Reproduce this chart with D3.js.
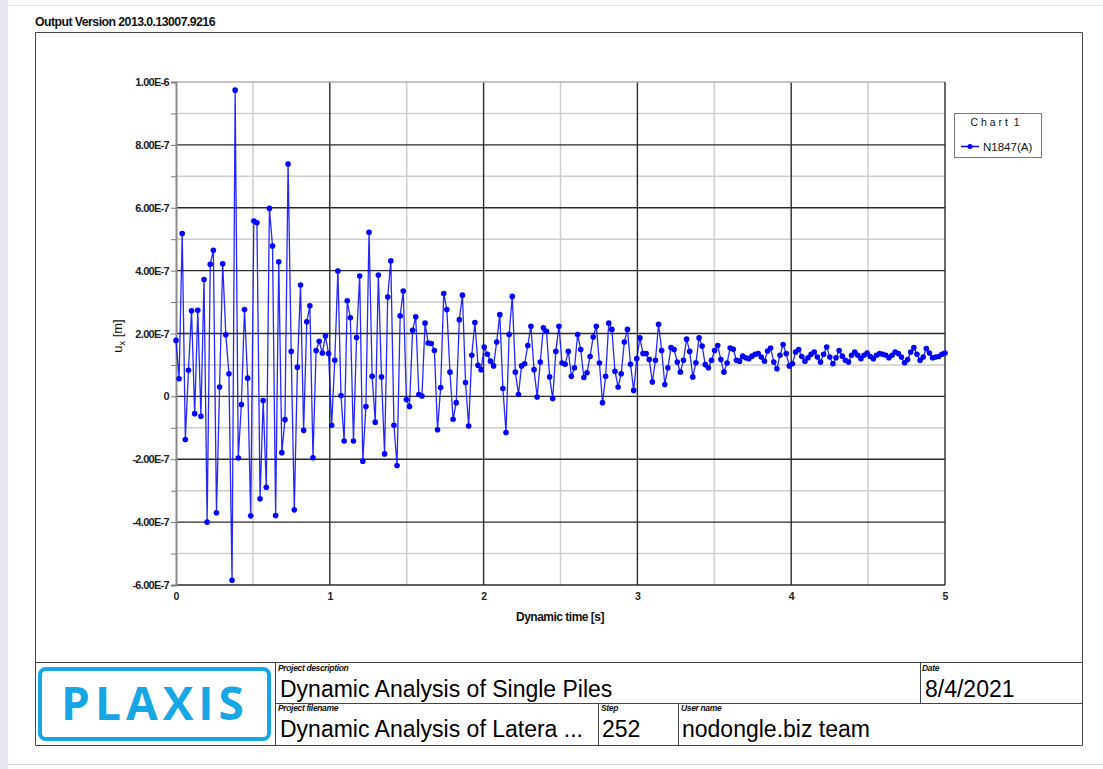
<!DOCTYPE html>
<html><head><meta charset="utf-8">
<script src="https://cdn.jsdelivr.net/npm/d3@7"></script>
<style>
body{margin:0;background:#fff;}
svg{display:block;font-family:"Liberation Sans",Arial,sans-serif;}
</style>
</head><body>
<svg id="c" width="1103" height="769"></svg>
<script>
// ---------------- DATA ----------------
const versionText = "Output Version 2013.0.13007.9216";
const legendTitle = "C h a r t  1";
const seriesName = "N1847(A)";
const xTitle = "Dynamic time [s]";
// time span of the series (s); points are equally spaced steps over it
const timeStart = 0.0, timeEnd = 5.0;
// u_x values in units of 1E-7 m, one per step
const uxE7 = [
 1.78, 0.56, 5.18, -1.37, 0.83, 2.72, -0.55, 2.74, -0.63, 3.72,
 -4.0, 4.2, 4.65, -3.7, 0.3, 4.22, 1.96, 0.72, -5.85, 9.74,
 -1.96, -0.26, 2.76, 0.58, -3.8, 5.58, 5.52, -3.26, -0.13, -2.89,
 5.98, 4.78, -3.79, 4.28, -1.79, -0.74, 7.39, 1.43, -3.61, 0.93,
 3.54, -1.08, 2.37, 2.88, -1.95, 1.46, 1.75, 1.38, 1.92, 1.36,
 -0.92, 1.15, 3.99, 0.03, -1.42, 3.04, 2.5, -1.42, 1.87, 3.83,
 -2.06, -0.32, 5.22, 0.64, -0.82, 3.86, 0.62, -1.83, 3.16, 4.31,
 -0.92, -2.2, 2.56, 3.35, -0.1, -0.32, 2.1, 2.53, 0.06, 0.01,
 2.33, 1.7, 1.68, 1.46, -1.06, 0.28, 3.27, 2.76, 0.77, -0.73,
 -0.2, 2.44, 3.22, 0.44, -0.94, 1.31, 2.35, 0.99, 0.85, 1.57,
 1.34, 1.12, 0.97, 1.73, 2.6, 0.25, -1.15, 1.97, 3.18, 0.77,
 0.06, 0.97, 1.04, 1.62, 2.23, 0.85, -0.02, 1.09, 2.18, 2.07,
 0.62, -0.07, 1.43, 2.23, 1.06, 1.02, 1.43, 0.64, 0.91, 1.97,
 1.49, 0.6, 0.75, 1.27, 1.89, 2.23, 1.06, -0.2, 0.64, 2.33,
 2.13, 0.8, 0.3, 0.72, 1.73, 2.13, 1.02, 0.19, 1.2, 1.86,
 1.36, 1.36, 1.17, 0.46, 1.15, 2.29, 1.46, 0.38, 0.91, 1.55,
 1.49, 1.09, 0.77, 1.15, 1.82, 1.43, 0.62, 1.07, 1.86, 1.6,
 1.01, 0.91, 1.15, 1.46, 1.62, 1.17, 0.77, 1.06, 1.54, 1.5,
 1.15, 1.12, 1.28, 1.23, 1.2, 1.28, 1.34, 1.36, 1.25, 1.12,
 1.44, 1.54, 1.09, 0.88, 1.31, 1.65, 1.36, 0.97, 1.04, 1.41,
 1.49, 1.27, 1.12, 1.23, 1.34, 1.41, 1.25, 1.09, 1.34, 1.57,
 1.25, 1.04, 1.23, 1.46, 1.28, 1.15, 1.09, 1.31, 1.41, 1.31,
 1.2, 1.31, 1.38, 1.27, 1.2, 1.31, 1.36, 1.34, 1.31, 1.23,
 1.31, 1.41, 1.36, 1.25, 1.07, 1.17, 1.41, 1.55, 1.34, 1.15,
 1.25, 1.52, 1.38, 1.23, 1.25, 1.27, 1.34, 1.38
];
const yTickValues = [-6, -4, -2, 0, 2, 4, 6, 8, 10];
const yTickLabels = ["-6.00E-7", "-4.00E-7", "-2.00E-7", "0", "2.00E-7", "4.00E-7", "6.00E-7", "8.00E-7", "1.00E-6"];
const xTickValues = [0, 1, 2, 3, 4, 5];
const xTickLabels = ["0", "1", "2", "3", "4", "5"];
const blockProjectDescription = "Dynamic Analysis of Single Piles";
const blockProjectFilename = "Dynamic Analysis of Latera ...";
const blockDate = "8/4/2021";
const blockStep = "252";
const blockUser = "nodongle.biz team";
const logoText = "PLAXIS";

// ---------------- DRAW ----------------
const svg = d3.select("#c");
const BLUE = "#0000ff";

// page edges
svg.append("rect").attr("x",0).attr("y",0).attr("width",8).attr("height",769).attr("fill","#e6e7ef");
svg.append("line").attr("x1",8).attr("x2",1103).attr("y1",5.5).attr("y2",5.5).attr("stroke","#e3e3e8").attr("stroke-width",1);
svg.append("line").attr("x1",8).attr("x2",1103).attr("y1",764.5).attr("y2",764.5).attr("stroke","#d8d8dc").attr("stroke-width",1);

svg.append("text").attr("x",35).attr("y",26).attr("font-size",12.3).attr("font-weight","bold")
  .attr("letter-spacing","-0.55").attr("fill","#111").text(versionText);

// outer frame
const frame = svg.append("g").attr("fill","none").attr("stroke","#444").attr("stroke-width",1);
frame.append("path").attr("d","M35.5,745.5 V32.5 H1082.5 V745.5 H35.5");
frame.append("line").attr("x1",35).attr("x2",1082).attr("y1",662.5).attr("y2",662.5);
frame.append("line").attr("x1",275.5).attr("x2",275.5).attr("y1",662).attr("y2",745);
frame.append("line").attr("x1",275).attr("x2",1082).attr("y1",703.5).attr("y2",703.5);
frame.append("line").attr("x1",920.5).attr("x2",920.5).attr("y1",662).attr("y2",703);
frame.append("line").attr("x1",598.5).attr("x2",598.5).attr("y1",703).attr("y2",745);
frame.append("line").attr("x1",678.5).attr("x2",678.5).attr("y1",703).attr("y2",745);

// scales
const x = d3.scaleLinear().domain([0,5]).range([176,945]);
const y = d3.scaleLinear().domain([-6,10]).range([585,82]);

// grid
const grid = svg.append("g");
const minorX = d3.range(0.5,5,1), majorX = [1,2,3,4];
const minorY = d3.range(-5,10,2), majorY = [-4,-2,0,2,4,6,8];
grid.selectAll(".mx").data(minorX).join("line")
  .attr("x1",d=>x(d)).attr("x2",d=>x(d)).attr("y1",y(10)).attr("y2",y(-6))
  .attr("stroke","#cdcdcd").attr("stroke-width",1.5);
grid.selectAll(".my").data(minorY).join("line")
  .attr("x1",x(0)).attr("x2",x(5)).attr("y1",d=>y(d)).attr("y2",d=>y(d))
  .attr("stroke","#cdcdcd").attr("stroke-width",1.5);
grid.selectAll(".Mx").data(majorX).join("line")
  .attr("x1",d=>x(d)).attr("x2",d=>x(d)).attr("y1",y(10)).attr("y2",y(-6))
  .attr("stroke","#2a2a2a").attr("stroke-width",1.4);
grid.selectAll(".My").data(majorY).join("line")
  .attr("x1",x(0)).attr("x2",x(5)).attr("y1",d=>y(d)).attr("y2",d=>y(d))
  .attr("stroke","#2a2a2a").attr("stroke-width",1.4);
// top & right & bottom borders
grid.append("line").attr("x1",x(0)).attr("x2",x(5)).attr("y1",y(10)).attr("y2",y(10)).attr("stroke","#b0b0b0").attr("stroke-width",1.5);
grid.append("line").attr("x1",x(5)).attr("x2",x(5)).attr("y1",y(10)).attr("y2",y(-6)).attr("stroke","#2a2a2a").attr("stroke-width",1.4);
grid.append("line").attr("x1",x(0)).attr("x2",x(5)).attr("y1",y(-6)).attr("y2",y(-6)).attr("stroke","#2a2a2a").attr("stroke-width",1.4);

// axes
const labelMap = new Map(yTickValues.map((v,i)=>[v,yTickLabels[i]]));
const yAxis = svg.append("g").attr("transform",`translate(${x(0)},0)`)
  .call(d3.axisLeft(y).tickValues(d3.range(-6,11,1)).tickSize(5).tickPadding(2)
    .tickFormat(d=>labelMap.has(d)?labelMap.get(d):""));
yAxis.select(".domain").attr("stroke","#8a8a8a").attr("stroke-width",2);
yAxis.selectAll(".tick line").attr("stroke","#777");
yAxis.selectAll("text").attr("font-family","Liberation Sans, Arial, sans-serif").attr("font-size",11)
  .attr("font-weight","bold").attr("letter-spacing","-0.7").attr("fill","#222");

const xLabelMap = new Map(xTickValues.map((v,i)=>[v,xTickLabels[i]]));
const xAxis = svg.append("g").attr("transform",`translate(0,${y(-6)})`)
  .call(d3.axisBottom(x).tickValues(d3.range(0,5.01,0.5)).tickSize(0).tickPadding(8)
    .tickFormat(d=>xLabelMap.has(d)?xLabelMap.get(d):""));
xAxis.select(".domain").remove();
xAxis.selectAll("text").attr("font-family","Liberation Sans, Arial, sans-serif").attr("font-size",10.5)
  .attr("font-weight","bold").attr("fill","#222");

svg.append("text").attr("x",560).attr("y",621).attr("text-anchor","middle").attr("font-size",12)
  .attr("font-weight","bold").attr("letter-spacing","-0.5").attr("fill","#111").text(xTitle);

const yt = svg.append("text").attr("transform","translate(122,336) rotate(-90)").attr("text-anchor","middle")
  .attr("font-size",13).attr("fill","#111");
yt.append("tspan").text("u");
yt.append("tspan").attr("font-size",9).attr("dy",3).text("x");
yt.append("tspan").attr("dy",-3).text(" [m]");

// series
const n = uxE7.length;
const pts = uxE7.map((v,i)=>({t: timeStart + (timeEnd-timeStart)*i/(n-1), v}));
svg.append("path").datum(pts).attr("fill","none").attr("stroke",BLUE).attr("stroke-width",1.3)
  .attr("stroke-opacity",0.85)
  .attr("d",d3.line().x(d=>x(d.t)).y(d=>y(d.v)));
svg.append("g").selectAll("circle").data(pts).join("circle")
  .attr("cx",d=>x(d.t)).attr("cy",d=>y(d.v)).attr("r",2.8).attr("fill",BLUE);

// legend
const lg = svg.append("g");
lg.append("rect").attr("x",954.5).attr("y",113.5).attr("width",87).attr("height",44)
  .attr("fill","#fff").attr("stroke","#777").attr("stroke-width",1);
lg.append("text").attr("x",995).attr("y",126).attr("text-anchor","middle").attr("font-size",10.5)
  .attr("fill","#111").style("white-space","pre").text(legendTitle);
lg.append("line").attr("x1",961).attr("x2",979).attr("y1",146.5).attr("y2",146.5).attr("stroke",BLUE).attr("stroke-width",1.5);
lg.append("circle").attr("cx",970).attr("cy",146.5).attr("r",2.5).attr("fill",BLUE);
lg.append("text").attr("x",983).attr("y",150.5).attr("font-size",11.5).attr("fill","#111").text(seriesName);

// title block
const LOGO = "#16a6e4";
svg.append("rect").attr("x",40).attr("y",669).attr("width",229).attr("height",70).attr("rx",6)
  .attr("fill","none").attr("stroke",LOGO).attr("stroke-width",4);
svg.append("text").attr("x",155).attr("y",720).attr("text-anchor","middle").attr("font-size",46)
  .attr("font-weight","bold").attr("letter-spacing","5").attr("fill",LOGO)
  .attr("font-family","Open Sans, Liberation Sans, sans-serif").text(logoText);

function smallLabel(xx,yy,t){
  svg.append("text").attr("x",xx).attr("y",yy).attr("font-size",8.5).attr("font-style","italic")
    .attr("font-weight","bold").attr("letter-spacing","-0.35").attr("fill","#111").text(t);
}
function bigText(xx,yy,t){
  svg.append("text").attr("x",xx).attr("y",yy).attr("font-size",23).attr("fill","#000").text(t);
}
smallLabel(278,671,"Project description");
bigText(280,697,blockProjectDescription);
smallLabel(922,671,"Date");
bigText(925,697,blockDate);
smallLabel(278,711,"Project filename");
bigText(280,737,blockProjectFilename);
smallLabel(601,711,"Step");
bigText(602,737,blockStep);
smallLabel(681,711,"User name");
bigText(682,737,blockUser);
</script>
</body></html>
